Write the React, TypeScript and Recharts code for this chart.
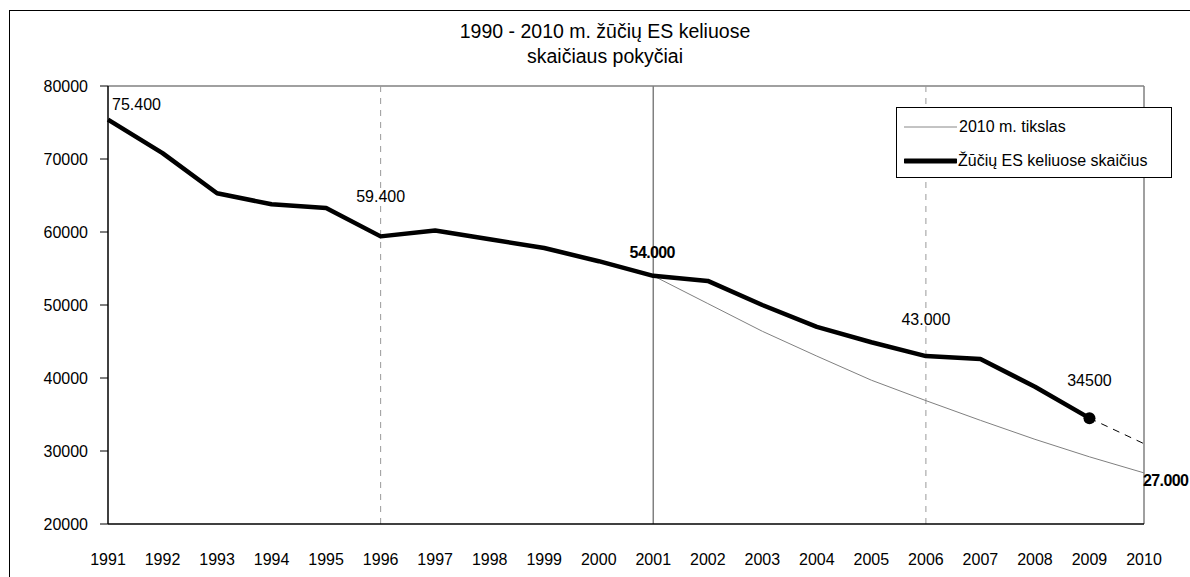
import {
  LineChart,
  Line,
  XAxis,
  YAxis,
  ReferenceLine,
  Legend,
  LabelList,
} from "recharts";

const years = [
  1991, 1992, 1993, 1994, 1995, 1996, 1997, 1998, 1999, 2000, 2001, 2002, 2003,
  2004, 2005, 2006, 2007, 2008, 2009, 2010,
];

// road deaths in the EU (thick black line)
const deaths: (number | null)[] = [
  75400, 70800, 65300, 63800, 63300, 59400, 60200, 59000, 57800, 56000, 54000,
  53300, 50000, 47000, 44900, 43000, 42600, 38800, 34500, null,
];

// 2010 target path (thin grey line)
const target: (number | null)[] = [
  null, null, null, null, null, null, null, null, null, null, 54000, 50200,
  46400, 43000, 39700, 36900, 34200, 31600, 29200, 27000,
];

// dashed extension of the last year
const projection: (number | null)[] = [
  null, null, null, null, null, null, null, null, null, null, null, null, null,
  null, null, null, null, null, 34500, 31000,
];

const deathLabels: (string | null)[] = [
  "75.400", null, null, null, null, "59.400", null, null, null, null, "54.000",
  null, null, null, null, "43.000", null, null, "34500", null,
];

const targetLabels: (string | null)[] = [
  null, null, null, null, null, null, null, null, null, null, null, null, null,
  null, null, null, null, null, null, "27.000",
];

const yTicks = [20000, 30000, 40000, 50000, 60000, 70000, 80000];

const data = years.map((year, i) => ({
  year,
  deaths: deaths[i],
  target: target[i],
  projection: projection[i],
}));

const FONT = "'Liberation Sans', Arial, sans-serif";

// label placement tweaks relative to the point
const deathLabelStyle: Record<number, { dx: number; dy: number; anchor: string; bold?: boolean }> = {
  0: { dx: 4, dy: -10, anchor: "start" },
  5: { dx: 0, dy: -34, anchor: "middle" },
  10: { dx: -1, dy: -18, anchor: "middle", bold: true },
  15: { dx: 0, dy: -31, anchor: "middle" },
  18: { dx: 0, dy: -32, anchor: "middle" },
};

function DeathLabel(props: any) {
  const { x, y, index } = props;
  const text = deathLabels[index];
  const s = deathLabelStyle[index];
  if (!text || !s) return null;
  return (
    <text
      x={x + s.dx}
      y={y + s.dy}
      textAnchor={s.anchor as any}
      fontSize={16}
      fontFamily={FONT}
      fontWeight={s.bold ? "bold" : "normal"}
      letterSpacing={s.bold ? -0.6 : 0}
      fill="#000"
    >
      {text}
    </text>
  );
}

function TargetLabel(props: any) {
  const { x, y, index } = props;
  const text = targetLabels[index];
  if (!text) return null;
  return (
    <text
      x={x - 1}
      y={y + 13}
      textAnchor="start"
      fontSize={16}
      fontFamily={FONT}
      fontWeight="bold"
      letterSpacing={-0.6}
      fill="#000"
    >
      {text}
    </text>
  );
}

function LastDot(props: any) {
  const { cx, cy, index } = props;
  if (index !== 18) return <g key={`d-${index}`} />;
  return <circle key={`d-${index}`} cx={cx} cy={cy} r={6} fill="#000" />;
}

function LegendBox() {
  const row = { display: "flex", alignItems: "center", height: 34 };
  return (
    <div
      style={{
        width: 276,
        height: 71,
        border: "1px solid #000",
        background: "#fff",
        fontFamily: FONT,
        fontSize: 16,
        color: "#000",
        boxSizing: "border-box",
        padding: "2px 0 0 7px",
      }}
    >
      <div style={row}>
        <svg width={53} height={10}>
          <line x1={0} y1={5} x2={53} y2={5} stroke="#888" strokeWidth={1} />
        </svg>
        <span style={{ marginLeft: 2 }}>2010 m. tikslas</span>
      </div>
      <div style={row}>
        <svg width={53} height={10}>
          <line x1={1} y1={5} x2={52} y2={5} stroke="#000" strokeWidth={5} strokeLinecap="round" />
        </svg>
        <span style={{ marginLeft: 1 }}>Žūčių ES keliuose skaičius</span>
      </div>
    </div>
  );
}

export default function App() {
  return (
    <div
      style={{
        position: "absolute",
        left: 0,
        top: 0,
        width: 1190,
        height: 577,
        overflow: "hidden",
        background: "#fff",
      }}
    >
      {/* outer chart frame */}
      <div
        style={{
          position: "absolute",
          left: 9,
          top: 10,
          width: 1300,
          height: 700,
          borderTop: "1px solid #000",
          borderLeft: "1px solid #000",
        }}
      />
      <div
        style={{
          position: "absolute",
          left: 0,
          top: 19,
          width: 1210,
          textAlign: "center",
          fontFamily: FONT,
          fontSize: 19.5,
          lineHeight: "25px",
          color: "#000",
        }}
      >
        1990 - 2010 m. žūčių ES keliuose
        <br />
        skaičiaus pokyčiai
      </div>
      <div style={{ position: "absolute", left: 0, top: 0 }}>
        <LineChart
          width={1190}
          height={577}
          data={data}
          margin={{ top: 86, right: 46, left: 48, bottom: 23 }}
        >
          <XAxis
            dataKey="year"
            type="number"
            domain={[1991, 2010]}
            ticks={years}
            interval={0}
            height={30}
            axisLine={{ stroke: "#000", strokeWidth: 1.5 }}
            tickLine={false}
            tickSize={6}
            tickMargin={24}
            tick={{ fill: "#000", fontSize: 16, fontFamily: FONT }}
          />
          <YAxis
            domain={[20000, 80000]}
            ticks={yTicks}
            width={60}
            axisLine={{ stroke: "#000", strokeWidth: 1.5 }}
            tickLine={{ stroke: "#000" }}
            tickSize={8}
            tickMargin={12}
            tick={{ fill: "#000", fontSize: 16, fontFamily: FONT }}
          />
          {/* plot area top and right edges */}
          <ReferenceLine y={80000} stroke="#808080" strokeWidth={1.5} />
          <ReferenceLine x={2010} stroke="#808080" strokeWidth={1.5} />
          <ReferenceLine x={1996} stroke="#9a9a9a" strokeDasharray="6 6" />
          <ReferenceLine x={2001} stroke="#808080" strokeWidth={1.5} />
          <ReferenceLine x={2006} stroke="#9a9a9a" strokeDasharray="6 6" />

          <Line
            dataKey="target"
            stroke="#808080"
            strokeWidth={1}
            dot={false}
            connectNulls={false}
            isAnimationActive={false}
          >
            <LabelList dataKey="target" content={TargetLabel} />
          </Line>
          <Line
            dataKey="projection"
            stroke="#000"
            strokeWidth={1}
            strokeDasharray="7 6"
            dot={false}
            isAnimationActive={false}
          />
          <Line
            dataKey="deaths"
            stroke="#000"
            strokeWidth={4.5}
            strokeLinejoin="round"
            dot={LastDot}
            activeDot={false}
            isAnimationActive={false}
          >
            <LabelList dataKey="deaths" content={DeathLabel} />
          </Line>
          <Legend
            layout="vertical"
            verticalAlign="middle"
            align="center"
            content={LegendBox}
            wrapperStyle={{ position: "absolute", left: 896, top: 107, width: 276 }}
          />
        </LineChart>
      </div>
    </div>
  );
}
